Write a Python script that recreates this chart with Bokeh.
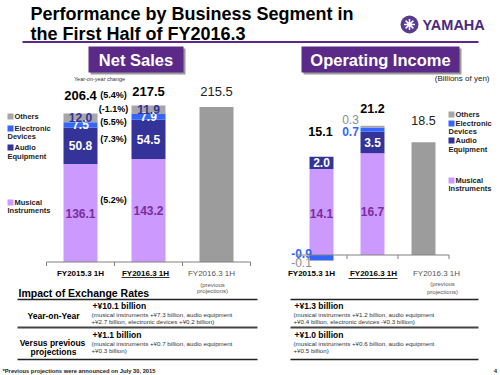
import numpy as np
from bokeh.plotting import figure
from bokeh.models import Range1d
from bokeh.core.properties import value
from bokeh.embed import file_html
from bokeh.resources import INLINE

# ---------------- data ----------------
periods = ["FY2015.3 1H", "FY2016.3 1H", "FY2016.3 1H"]
segments = ["Musical Instruments", "Audio Equipment", "Electronic Devices", "Others"]
legend_lines = [["Musical", "Instruments"], ["Audio", "Equipment"], ["Electronic", "Devices"], ["Others"]]

sales_musical = [136.1, 143.2]
sales_audio = [50.8, 54.5]
sales_electronic = [7.5, 7.9]
sales_others = [12.0, 11.9]
sales_total = [206.4, 217.5]
sales_projection = [215.5]
sales_yoy_segments = ["(5.2%)", "(7.3%)", "(5.5%)", "(-1.1%)"]
sales_yoy_total = ["(5.4%)"]

oi_musical = [14.1, 16.7]
oi_audio = [2.0, 3.5]
oi_electronic = [-0.9, 0.7]
oi_others = [-0.1, 0.3]
oi_total = [15.1, 21.2]
oi_projection = [18.5]

fx_sales = [["+¥10.1 billion", "(musical instruments +¥7.3 billion, audio equipment", "+¥2.7 billion, electronic devices  +¥0.2 billion)"],
            ["+¥1.1 billion", "(musical instruments +¥0.7 billion, audio equipment", "+¥0.3 billion)"]]
fx_oi = [["+¥1.3 billion", "(musical instruments +¥1.2 billion, audio equipment", "+¥0.4 billion, electronic devices  -¥0.3 billion)"],
         ["+¥1.0 billion", "(musical instruments +¥0.6 billion, audio equipment", "+¥0.5 billion)"]]
fx_rows = [["Year-on-Year"], ["Versus previous", "projections"]]

# ---------------- styles ----------------
FONT = value("Liberation Sans")
seg_colors = ["#CC99FF", "#333399", "#3366FF", "#A6A6A6"]
proj_color = "#9C9C9C"
purple = "#5B2A88"
mi_label = "#7B2C9E"

p = figure(width=500, height=375, x_range=Range1d(0, 500), y_range=Range1d(375, 0),
           output_backend="svg", toolbar_location=None, min_border=0)
p.axis.visible = False
p.grid.visible = False
p.outline_line_color = None
p.background_fill_color = "white"

# chart scales (pixel placement of each chart's data space)
NS_X0, NS_DX, NS_BASE, NS_K = 80.0, 68.0, 261.5, 0.7195
OI_X0, OI_DX, OI_BASE, OI_K = 321.0, 51.0, 254.5, 6.1
p.extra_x_ranges = {"nsx": Range1d(-NS_X0 / NS_DX, (500 - NS_X0) / NS_DX),
                    "oix": Range1d(-OI_X0 / OI_DX, (500 - OI_X0) / OI_DX)}
p.extra_y_ranges = {"nsy": Range1d((NS_BASE - 375) / NS_K, NS_BASE / NS_K),
                    "oiy": Range1d((OI_BASE - 375) / OI_K, OI_BASE / OI_K)}


def txt(x, y, s, size, color="#000000", bold=False, align="left", **kw):
    p.text(x=[x], y=[y], text=[s], text_font=FONT, text_font_size=value(f"{size}px"),
           text_font_style=value("bold" if bold else "normal"), text_color=color,
           text_align=value(align), text_baseline=value("middle"), **kw)


def stack(series):
    pos = np.zeros(len(series[0]))
    neg = np.zeros(len(series[0]))
    out = []
    for s in series:
        s = np.asarray(s, float)
        bottom = np.where(s >= 0, pos, neg)
        top = bottom + s
        pos = np.where(s >= 0, top, pos)
        neg = np.where(s < 0, top, neg)
        out.append((bottom, top))
    return out


# ---------------- header ----------------
txt(30, 13, "Performance by Business Segment in", 18, bold=True)
txt(30, 33.5, "the First Half of FY2016.3", 18, bold=True)
p.segment(x0=[22], y0=[41.5], x1=[478], y1=[41.5], line_color=purple, line_width=2)
p.scatter(x=[409], y=[24], size=18, marker="circle", fill_color="#5A3A8E", line_color=None)
p.scatter(x=[409], y=[24], size=11, marker="asterisk", line_color="white", line_width=1.5)
txt(422, 24.5, "YAMAHA", 14.5, color="#4A2A80", bold=True)

for (l, r), label in [((88, 183), "Net Sales"), ((301, 459), "Operating Income")]:
    p.quad(left=[l + 2], right=[r + 2], top=[48], bottom=[74], fill_color="#9A9A9A", line_color=None)
    p.quad(left=[l], right=[r], top=[46], bottom=[72], fill_color=purple, line_color=None)
    txt((l + r) / 2, 59.5, label, 16.5, color="white", bold=True, align="center")

txt(99, 78, "Year-on-year change", 5.5, color="#333333", align="center")
txt(489, 78, "(Billions of yen)", 8, color="#222222", align="right")

# ---------------- legends ----------------
def legend(x_sq, rows_y):
    for lines, c, ys in zip(legend_lines, seg_colors, rows_y):
        p.scatter(x=[x_sq], y=[ys[0]], size=6, marker="square", fill_color=c, line_color=None)
        txt(x_sq + 4, ys[0], lines[0], 7.5, color="#222222", bold=True)
        if len(lines) > 1:
            txt(x_sq - 3, ys[1], lines[1], 7.5, color="#222222", bold=True)

legend(10, [(202, 210), (147, 156), (128, 136), (116,)])
legend(451, [(180, 188), (140, 148.5), (123, 131), (114,)])

# ---------------- Net Sales chart ----------------
NS = dict(x_range_name="nsx", y_range_name="nsy")
ns_idx = np.arange(len(sales_total))
ns_series = [sales_musical, sales_audio, sales_electronic, sales_others]
ns_stack = stack(ns_series)
for (b, t), c in zip(ns_stack, seg_colors):
    p.vbar(x=ns_idx, bottom=b, top=t, width=0.5, fill_color=c, line_color=None, **NS)
p.vbar(x=[2], bottom=[0], top=sales_projection, width=0.5, fill_color=proj_color, line_color=None, **NS)

for (b, t), vals, c in zip(ns_stack, ns_series, [mi_label, "white", "white", "#333399"]):
    p.text(x=ns_idx, y=(b + t) / 2, text=[f"{v:.1f}" for v in vals], text_font=FONT,
           text_font_size=value("12px"), text_font_style=value("bold"), text_color=c,
           text_align="center", text_baseline="middle", **NS)
p.text(x=ns_idx, y=sales_total, text=[f"{v:.1f}" for v in sales_total], y_offset=[-18, -14],
       text_font=FONT, text_font_size=value("13px"), text_font_style=value("bold"),
       text_color="black", text_align="center", text_baseline="middle", **NS)
p.text(x=[2], y=sales_projection, text=[f"{v:.1f}" for v in sales_projection], y_offset=-15,
       text_font=FONT, text_font_size=value("13px"), text_color="#222222",
       text_align="center", text_baseline="middle", **NS)
# year-on-year change labels, level with FY2016.3 segments
ns_mid = [float((b[1] + t[1]) / 2) for b, t in ns_stack]
p.text(x=[0.5] * 5, y=ns_mid + [sales_total[1]], text=sales_yoy_segments + sales_yoy_total,
       y_offset=[-10, 0, 5, -1, -11], x_offset=-1, text_font=FONT, text_font_size=value("9px"),
       text_font_style=value("bold"), text_color="black", text_align="center",
       text_baseline="middle", **NS)
# baseline with ticks
p.segment(x0=[-0.5], y0=[0], x1=[2.5], y1=[0], line_color="#808080", line_width=1, **NS)
p.segment(x0=[-0.5, 0.5, 1.5, 2.5], y0=[0] * 4, x1=[-0.5, 0.5, 1.5, 2.5], y1=[-4 / NS_K] * 4,
          line_color="#808080", line_width=1, **NS)
p.text(x=[0, 1, 2], y=[0, 0, 0], text=periods, x_offset=[0, -3, -5], y_offset=11,
       text_font=FONT, text_font_size=value("8px"), text_font_style=["bold", "bold", "normal"],
       text_color=["black", "black", "#555555"], text_align="center", text_baseline="middle", **NS)
p.segment(x0=[121], y0=[277], x1=[169], y1=[277], line_color="#333333", line_width=1)
p.text(x=[2, 2], y=[0, 0], text=["(previous", "projections)"], x_offset=-4, y_offset=[22.5, 28.5],
       text_font=FONT, text_font_size=value("6px"), text_color="#555555", text_align="center",
       text_baseline="middle", **NS)

# ---------------- Operating Income chart ----------------
OI = dict(x_range_name="oix", y_range_name="oiy")
oi_idx = np.arange(len(oi_total))
oi_series = [oi_musical, oi_audio, oi_electronic, oi_others]
oi_stack = stack(oi_series)
for (b, t), c in zip(oi_stack, seg_colors):
    p.vbar(x=oi_idx, bottom=b, top=t, width=0.47, fill_color=c, line_color=None, **OI)
p.vbar(x=[2], bottom=[0], top=oi_projection, width=0.47, fill_color=proj_color, line_color=None, **OI)

for k, (c, dy) in enumerate([(mi_label, [1.5, 7]), ("white", [0, 0])]):
    b, t = oi_stack[k]
    p.text(x=oi_idx, y=(b + t) / 2, text=[f"{v:.1f}" for v in oi_series[k]], y_offset=dy,
           text_font=FONT, text_font_size=value("12px"), text_font_style=value("bold"), text_color=c,
           text_align="center", text_baseline="middle", **OI)
for k, (c, st, dy) in zip([2, 3], [("#3366FF", "bold", [-4, 2]), ("#8C8C8C", "normal", [2, -7])]):
    b, t = oi_stack[k]
    p.text(x=oi_idx, y=(b + t) / 2, text=[f"{v:.1f}" for v in oi_series[k]], x_offset=[-20, -22],
           y_offset=dy, text_font=FONT, text_font_size=value("12px"), text_font_style=value(st),
           text_color=c, text_align="center", text_baseline="middle", **OI)
pos_top = [float(max(t)) for t in zip(*[st[1] for st in oi_stack])]
p.text(x=oi_idx, y=pos_top, text=[f"{v:.1f}" for v in oi_total], y_offset=[-25, -17], x_offset=[-1, 0],
       text_font=FONT, text_font_size=value("12.5px"), text_font_style=value("bold"),
       text_color="black", text_align="center", text_baseline="middle", **OI)
p.text(x=[2], y=oi_projection, text=[f"{v:.1f}" for v in oi_projection], y_offset=-22,
       text_font=FONT, text_font_size=value("12.5px"), text_color="#222222",
       text_align="center", text_baseline="middle", **OI)
p.segment(x0=[-0.5], y0=[0], x1=[2.5], y1=[0], line_color="#808080", line_width=1, **OI)
p.segment(x0=[0.5, 1.5, 2.5], y0=[0] * 3, x1=[0.5, 1.5, 2.5], y1=[-4 / OI_K] * 3,
          line_color="#808080", line_width=1, **OI)
p.text(x=[0, 1, 2], y=[0, 0, 0], text=periods, x_offset=[-10, 1, 13], y_offset=18.5,
       text_font=FONT, text_font_size=value("8px"), text_font_style=["bold", "bold", "normal"],
       text_color=["black", "black", "#555555"], text_align="center", text_baseline="middle", **OI)
p.segment(x0=[348], y0=[278], x1=[397], y1=[278], line_color="#333333", line_width=1)
p.text(x=[2, 2], y=[0, 0], text=["(previous", "projections)"], x_offset=19, y_offset=[28.5, 36.5],
       text_font=FONT, text_font_size=value("6px"), text_color="#555555", text_align="center",
       text_baseline="middle", **OI)

# ---------------- exchange-rate table ----------------
txt(18, 292.5, "Impact of Exchange Rates", 10.5, bold=True)
for (l, r) in [(17, 257), (290, 478)]:
    p.segment(x0=[l] * 3, y0=[299, 327, 359], x1=[r] * 3, y1=[299, 327, 359],
              line_color=["#222222", "#444444", "#222222"], line_width=[1.5, 2, 1.5])
for x0, block in [(92, fx_sales), (294, fx_oi)]:
    for (head, l1, l2), y in zip(block, [305, 334]):
        txt(x0, y, head, 8.5, bold=True)
        txt(x0 - 1, y + 9, l1, 6.2, color="#333333")
        txt(x0 - 1, y + 15.5, l2, 6.2, color="#333333")
txt(53, 315, fx_rows[0][0], 8.5, bold=True, align="center")
txt(52, 342, fx_rows[1][0], 8.5, bold=True, align="center")
txt(53, 351, fx_rows[1][1], 8.5, bold=True, align="center")
txt(2, 370, "*Previous projections were announced on July 30, 2015", 5.8, color="#222222", bold=True)
txt(495, 370, "4", 6, color="#222222", bold=True, align="center")

open("out.html", "w").write(file_html(p, INLINE))
